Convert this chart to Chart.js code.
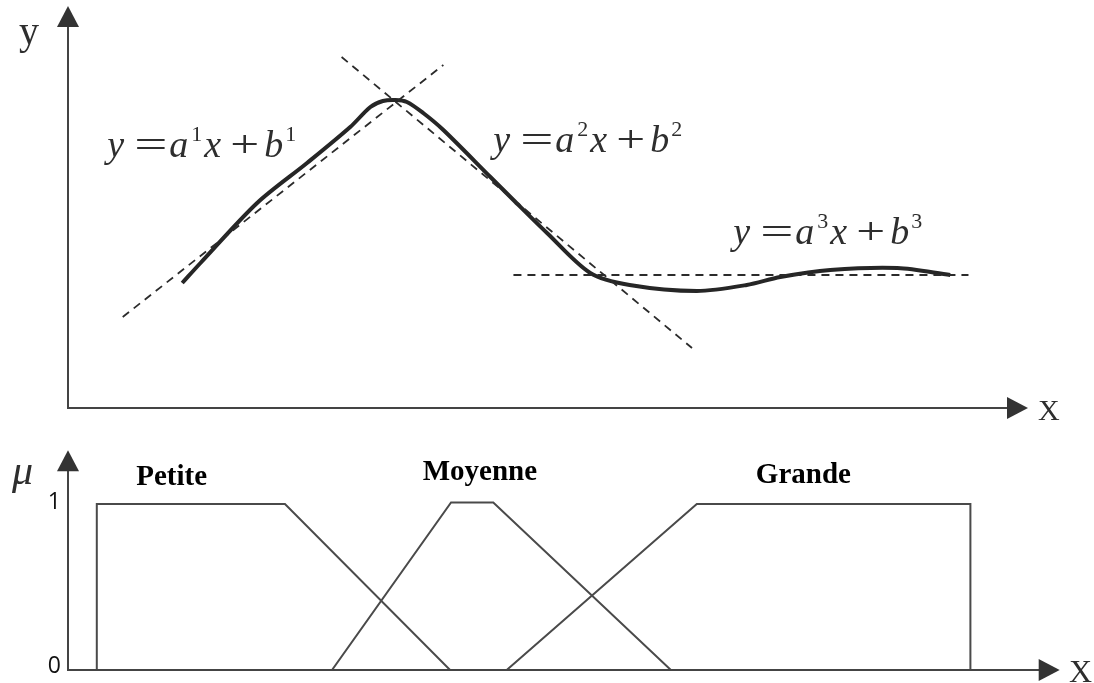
<!DOCTYPE html>
<html>
<head>
<meta charset="utf-8">
<script src="https://cdn.jsdelivr.net/npm/chart.js@4"></script>
<style>
    html, body { margin: 0; padding: 0; background: #fff; }
    #wrap { position: relative; width: 1094px; height: 683px; overflow: hidden; }
    canvas { position: absolute; left: 0; }
    #topChart { top: 0; }
    #bottomChart { top: 420px; }
</style>
</head>
<body>
<div id="wrap">
    <canvas id="topChart" width="1094" height="420"></canvas>
    <canvas id="bottomChart" width="1094" height="263"></canvas>
</div>
<script>
// ==============================
// TOP CHART DATA (nonlinear curve + local linear models)
// ==============================
const curveX = [1.19, 1.38, 1.97, 2.49, 2.94, 3.15, 3.28, 3.41, 3.53, 3.70, 3.91, 4.40, 4.64, 4.99, 5.44, 5.85, 6.55, 7.07, 7.42, 7.94, 8.64, 9.19];
const curveY = [1.25, 1.45, 2.05, 2.45, 2.81, 3.01, 3.07, 3.08, 3.06, 2.95, 2.78, 2.31, 2.08, 1.75, 1.35, 1.23, 1.17, 1.23, 1.31, 1.38, 1.40, 1.33];

const tangent1X = [0.57, 3.91];
const tangent1Y = [0.91, 3.43];
const tangent2X = [2.85, 6.50];
const tangent2Y = [3.51, 0.60];
const tangent3X = [4.64, 9.38];
const tangent3Y = [1.33, 1.33];

const formulaIndex = [1, 2, 3];

// ==============================
// BOTTOM CHART DATA (membership functions)
// ==============================
const setLabels = ["Petite", "Moyenne", "Grande"];
const petiteX = [0.30, 0.30, 2.26, 3.98];
const petiteY = [0, 1, 1, 0];
const moyenneX = [2.75, 3.99, 4.43, 6.28];
const moyenneY = [0, 1.01, 1.01, 0];
const grandeX = [4.57, 6.55, 9.40, 9.40];
const grandeY = [0, 1, 1, 0];
const muTicks = [0, 1];

const zip = (xs, ys) => xs.map((x, i) => ({ x: x, y: ys[i] }));

// label anchors (data units)
const formulaPos = [
    { x: 0.41, y: 2.51 },
    { x: 4.43, y: 2.56 },
    { x: 6.93, y: 1.64 }
];
const setLabelPos = [
    { x: 1.08, y: 1.16 },
    { x: 4.29, y: 1.19 },
    { x: 7.66, y: 1.17 }
];

const AXIS = "#444";
const SERIF = "'Liberation Serif', 'DejaVu Serif', serif";

function arrowUp(ctx, x, y) {
    ctx.beginPath();
    ctx.moveTo(x, y);
    ctx.lineTo(x - 11, y + 21);
    ctx.lineTo(x + 11, y + 21);
    ctx.closePath();
    ctx.fill();
}

function arrowRight(ctx, x, y) {
    ctx.beginPath();
    ctx.moveTo(x, y);
    ctx.lineTo(x - 21, y - 11);
    ctx.lineTo(x - 21, y + 11);
    ctx.closePath();
    ctx.fill();
}

function drawAxes(ctx, x0, y0, xTip, yTip) {
    ctx.save();
    ctx.strokeStyle = AXIS;
    ctx.fillStyle = "#333";
    ctx.lineWidth = 2;
    ctx.beginPath();
    ctx.moveTo(x0, yTip + 18);
    ctx.lineTo(x0, y0);
    ctx.lineTo(xTip - 18, y0);
    ctx.stroke();
    arrowUp(ctx, x0, yTip);
    arrowRight(ctx, xTip, y0);
    ctx.restore();
}

// y = a^n x + b^n, pieces placed at fixed offsets like the typeset original
function drawFormula(ctx, x, y, n) {
    const it = "italic 38px " + SERIF;
    const rm = "38px " + SERIF;
    const sup = "22px " + SERIF;
    const parts = [
        // font, text, dx, dy, horizontal stretch
        [it, "y", 0, 0, 1],
        [rm, "=", 27, 0, 1.55],
        [it, "a", 62, 0, 1],
        [sup, String(n), 84, -16, 1],
        [it, "x", 97, 0, 1],
        [rm, "+", 123, 0, 1.35],
        [it, "b", 157, 0, 1],
        [sup, String(n), 178, -16, 1]
    ];
    ctx.save();
    ctx.fillStyle = "#2e2e2e";
    ctx.textBaseline = "alphabetic";
    parts.forEach(p => {
        ctx.save();
        ctx.font = p[0];
        ctx.translate(x + p[2], y + p[3]);
        ctx.scale(p[4], 1);
        ctx.fillText(p[1], 0, 0);
        ctx.restore();
    });
    ctx.restore();
}

const topDecor = {
    id: "topDecor",
    afterDraw(chart) {
        const ctx = chart.ctx;
        const xs = chart.scales.x, ys = chart.scales.y;
        drawAxes(ctx, xs.getPixelForValue(0), ys.getPixelForValue(0),
            xs.getPixelForValue(10.0), ys.getPixelForValue(4.02));

        ctx.save();
        ctx.fillStyle = "#2e2e2e";
        ctx.font = "40px " + SERIF;
        ctx.textBaseline = "alphabetic";
        ctx.fillText("y", 19, 44);
        ctx.font = "30px " + SERIF;
        ctx.fillText("X", 1038, 420);
        ctx.restore();

        formulaIndex.forEach((n, i) => {
            drawFormula(ctx, xs.getPixelForValue(formulaPos[i].x), ys.getPixelForValue(formulaPos[i].y), n);
        });
    }
};

const bottomDecor = {
    id: "bottomDecor",
    afterDraw(chart) {
        const ctx = chart.ctx;
        const xs = chart.scales.x, ys = chart.scales.y;
        drawAxes(ctx, xs.getPixelForValue(0), ys.getPixelForValue(0),
            xs.getPixelForValue(10.33), ys.getPixelForValue(1.325));

        ctx.save();
        ctx.fillStyle = "#111";
        ctx.font = "23px 'Open Sans', 'Liberation Sans', sans-serif";
        ctx.textAlign = "right";
        ctx.textBaseline = "middle";
        muTicks.forEach(t => ctx.fillText(String(t), 61, ys.getPixelForValue(t) - (t ? 2 : 4)));

        ctx.textAlign = "left";
        ctx.textBaseline = "alphabetic";
        ctx.fillStyle = "#2e2e2e";
        ctx.font = "italic 42px " + SERIF;
        ctx.fillText("\u03BC", 12, 64);
        ctx.font = "32px " + SERIF;
        ctx.fillText("X", 1069, 262);

        ctx.fillStyle = "#000";
        ctx.font = "bold 29px " + SERIF;
        ctx.textAlign = "center";
        ctx.textBaseline = "middle";
        setLabels.forEach((s, i) => {
            ctx.fillText(s, xs.getPixelForValue(setLabelPos[i].x), ys.getPixelForValue(setLabelPos[i].y));
        });
        ctx.restore();
    }
};

const hiddenScales = (yMax) => ({
    x: { type: "linear", min: 0, max: 10, display: false },
    y: { type: "linear", min: 0, max: yMax, display: false }
});

const baseOptions = {
    responsive: false,
    animation: false,
    plugins: { legend: { display: false }, tooltip: { enabled: false } },
    elements: { point: { radius: 0 } }
};

function dashed(xs, ys) {
    return {
        data: zip(xs, ys),
        borderColor: "#2b2b2b",
        borderWidth: 1.8,
        borderDash: [8, 6],
        tension: 0
    };
}

function loadTopChart() {
    new Chart(document.getElementById("topChart"), {
        type: "line",
        data: {
            datasets: [
                dashed(tangent1X, tangent1Y),
                dashed(tangent2X, tangent2Y),
                dashed(tangent3X, tangent3Y),
                {
                    data: zip(curveX, curveY),
                    borderColor: "#262626",
                    borderWidth: 4,
                    tension: 0.3,
                    borderCapStyle: "butt"
                }
            ]
        },
        options: {
            ...baseOptions,
            layout: { padding: { left: 68, right: 66, top: 8, bottom: 12 } },
            scales: hiddenScales(4)
        },
        plugins: [topDecor]
    });
}

function member(xs, ys) {
    return {
        data: zip(xs, ys),
        borderColor: "#4a4a4a",
        borderWidth: 2,
        tension: 0
    };
}

function loadBottomChart() {
    new Chart(document.getElementById("bottomChart"), {
        type: "line",
        data: {
            datasets: [
                member(petiteX, petiteY),
                member(moyenneX, moyenneY),
                member(grandeX, grandeY)
            ]
        },
        options: {
            ...baseOptions,
            layout: { padding: { left: 68, right: 66, top: 31, bottom: 13 } },
            scales: hiddenScales(1.32)
        },
        plugins: [bottomDecor]
    });
}

document.addEventListener("DOMContentLoaded", () => {
    loadTopChart();
    loadBottomChart();
});
</script>
</body>
</html>
